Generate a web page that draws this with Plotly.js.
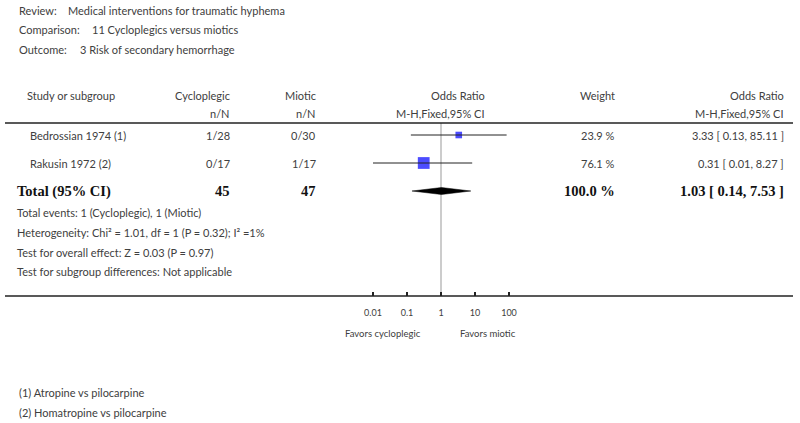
<!DOCTYPE html>
<html><head><meta charset="utf-8">
<script src="https://cdn.plot.ly/plotly-3.0.1.min.js"></script>
<style>html,body{margin:0;padding:0;background:#fff}</style>
</head><body><div id="chart" style="width:800px;height:423px"></div>
<script>
// ---- data ----
const studies = ["Bedrossian 1974 (1)", "Rakusin 1972 (2)"];
const cycloEvents = ["1/28", "0/17"];
const mioticEvents = ["0/30", "1/17"];
const oddsRatio = [3.33, 0.31];
const ciLow = [0.13, 0.01];
const ciHigh = [85.11, 8.27];
const weights = [23.9, 76.1];
const totalLabel = "Total (95% CI)";
const totalCyclo = 45;
const totalMiotic = 47;
const totalOR = 1.03;
const totalLow = 0.14;
const totalHigh = 7.53;
const totalWeight = 100.0;
const tickVals = [0.01, 0.1, 1, 10, 100];
const tickLabels = ["0.01", "0.1", "1", "10", "100"];
const headerLabels = ["Review:", "Comparison:", "Outcome:"];
const headerValues = ["Medical interventions for traumatic hyphema", "11 Cycloplegics versus miotics", "3 Risk of secondary hemorrhage"];
const footerLines = ["Total events: 1 (Cycloplegic), 1 (Miotic)",
  "Heterogeneity: Chi² = 1.01, df = 1 (P = 0.32); I² =1%",
  "Test for overall effect: Z = 0.03 (P = 0.97)",
  "Test for subgroup differences: Not applicable"];
const footnotes = ["(1) Atropine vs pilocarpine", "(2) Homatropine vs pilocarpine"];
const favorsLeft = "Favors cycloplegic";
const favorsRight = "Favors miotic";

// ---- layout helpers ----
const W = 800, H = 423;
const px = x => x / W;
const py = y => 1 - y / H;
const FONT = "Lato, 'Open Sans', sans-serif";
const TXT = "#404040";
const reg = (s) => ({family: FONT, size: s || 11, color: TXT});
const bold = {family: "'Liberation Serif', serif", size: 14.5, color: "#111"};

const rowIdx = studies.map((_, i) => i);
const totalRow = studies.length;

const traces = [];
// squares (drawn first so CI lines pass over them)
traces.push({x: oddsRatio, y: rowIdx, mode: "markers", type: "scatter",
  marker: {symbol: "square", color: "#0000ff", size: weights.map(w => 1.35 * Math.sqrt(w)),
    line: {width: 0}}, hoverinfo: "skip", showlegend: false});
// CI lines
studies.forEach((s, i) => {
  traces.push({x: [ciLow[i], ciHigh[i]], y: [i, i], mode: "lines", type: "scatter",
    line: {color: "#222", width: 1}, hoverinfo: "skip", showlegend: false});
});
// diamond
const dh = 0.125;
traces.push({x: [totalLow, totalOR, totalHigh, totalOR, totalLow],
  y: [totalRow, totalRow - dh, totalRow, totalRow + dh, totalRow],
  mode: "lines", fill: "toself", fillcolor: "#000", line: {color: "#000", width: 0.5},
  type: "scatter", hoverinfo: "skip", showlegend: false});

const ann = [];
const A = (o) => ann.push(Object.assign({showarrow: false, yanchor: "middle"}, o));
// header block
const headerY = [10, 29.5, 49];
const headerValX = [66, 90, 78];
headerLabels.forEach((l, i) => {
  A({xref: "paper", yref: "paper", x: px(17), y: py(headerY[i]), xanchor: "left", text: l, font: reg(11)});
  A({xref: "paper", yref: "paper", x: px(headerValX[i]), y: py(headerY[i]), xanchor: "left", text: headerValues[i], font: reg(11)});
});
// column headers
const colRow1 = 95, colRow2 = 113.5;
A({xref: "paper", yref: "paper", x: px(25), y: py(colRow1), xanchor: "left", text: "Study or subgroup", font: reg(11)});
A({xref: "paper", yref: "paper", x: px(232), y: py(colRow1), xanchor: "right", text: "Cycloplegic", font: reg(11)});
A({xref: "paper", yref: "paper", x: px(232), y: py(colRow2), xanchor: "right", text: "n/N", font: reg(11)});
A({xref: "paper", yref: "paper", x: px(318), y: py(colRow1), xanchor: "right", text: "Miotic", font: reg(11)});
A({xref: "paper", yref: "paper", x: px(318), y: py(colRow2), xanchor: "right", text: "n/N", font: reg(11)});
A({xref: "paper", yref: "paper", x: px(487), y: py(colRow1), xanchor: "right", text: "Odds Ratio", font: reg(11)});
A({xref: "paper", yref: "paper", x: px(487), y: py(colRow2), xanchor: "right", text: "M-H,Fixed,95% CI", font: reg(11)});
A({xref: "paper", yref: "paper", x: px(617), y: py(colRow1), xanchor: "right", text: "Weight", font: reg(11)});
A({xref: "paper", yref: "paper", x: px(786), y: py(colRow1), xanchor: "right", text: "Odds Ratio", font: reg(11)});
A({xref: "paper", yref: "paper", x: px(786), y: py(colRow2), xanchor: "right", text: "M-H,Fixed,95% CI", font: reg(11)});
// study rows
const f2 = v => v.toFixed(2);
studies.forEach((s, i) => {
  A({xref: "paper", yref: "y", x: px(28), y: i, xanchor: "left", text: s, font: reg(11)});
  A({xref: "paper", yref: "y", x: px(232), y: i, xanchor: "right", text: cycloEvents[i], font: reg(11)});
  A({xref: "paper", yref: "y", x: px(318), y: i, xanchor: "right", text: mioticEvents[i], font: reg(11)});
  A({xref: "paper", yref: "y", x: px(617), y: i, xanchor: "right", text: weights[i].toFixed(1) + " %", font: reg(11)});
  A({xref: "paper", yref: "y", x: px(786), y: i, xanchor: "right",
     text: f2(oddsRatio[i]) + " [ " + f2(ciLow[i]) + ", " + f2(ciHigh[i]) + " ]", font: reg(11)});
});
// total row
A({xref: "paper", yref: "y", x: px(15), y: totalRow, xanchor: "left", text: "<b>" + totalLabel + "</b>", font: bold});
A({xref: "paper", yref: "y", x: px(232), y: totalRow, xanchor: "right", text: "<b>" + totalCyclo + "</b>", font: bold});
A({xref: "paper", yref: "y", x: px(318), y: totalRow, xanchor: "right", text: "<b>" + totalMiotic + "</b>", font: bold});
A({xref: "paper", yref: "y", x: px(617), y: totalRow, xanchor: "right", text: "<b>" + totalWeight.toFixed(1) + " %</b>", font: bold});
A({xref: "paper", yref: "y", x: px(786), y: totalRow, xanchor: "right",
   text: "<b>" + f2(totalOR) + " [ " + f2(totalLow) + ", " + f2(totalHigh) + " ]</b>", font: bold});
// footer lines
const footerY = [213, 232.5, 252, 271.5];
footerLines.forEach((t, i) => {
  A({xref: "paper", yref: "paper", x: px(15), y: py(footerY[i]), xanchor: "left", text: t, font: reg(11)});
});
// favors (annotation x on a log axis is given as log10)
A({xref: "x", yref: "paper", x: Math.log10(1), xshift: -18, y: py(333), xanchor: "right", text: favorsLeft, font: reg(9.5)});
A({xref: "x", yref: "paper", x: Math.log10(1), xshift: 17, y: py(333), xanchor: "left", text: favorsRight, font: reg(9.5)});
// footnotes
const fnY = [392.5, 412];
footnotes.forEach((t, i) => {
  A({xref: "paper", yref: "paper", x: px(17), y: py(fnY[i]), xanchor: "left", text: t, font: reg(11)});
});

const axTop = 123, axBottom = 296;
const rowTop = 135, rowStep = 28;
const layout = {
  width: W, height: H, margin: {l: 0, r: 0, t: 0, b: 0},
  paper_bgcolor: "#fff", plot_bgcolor: "rgba(0,0,0,0)",
  showlegend: false,
  xaxis: {type: "log", range: [-2.5, 2.5], domain: [px(356), px(526)],
    showline: false, showgrid: false, zeroline: false,
    ticks: "inside", ticklen: 4, tickwidth: 1.5, tickcolor: "#222",
    tickvals: tickVals, ticktext: tickLabels, tickfont: reg(9), ticklabelstandoff: 10},
  yaxis: {domain: [1 - axBottom / H, 1 - axTop / H],
    range: [(axBottom - rowTop) / rowStep, (axTop - rowTop) / rowStep],
    visible: false, showgrid: false, zeroline: false},
  shapes: [
    {type: "line", xref: "paper", yref: "y domain", x0: px(5), x1: px(793), y0: 1, y1: 1, line: {color: "#222", width: 1.5}},
    {type: "line", xref: "paper", yref: "y domain", x0: px(5), x1: px(793), y0: 0, y1: 0, line: {color: "#222", width: 1.5}},
    {type: "line", xref: "x", yref: "y domain", x0: 1, x1: 1, y0: 0, y1: 1, line: {color: "#999", width: 1}, layer: "below"}
  ],
  annotations: ann
};
Plotly.newPlot("chart", traces, layout, {staticPlot: true, displayModeBar: false});
</script>
</body></html>
